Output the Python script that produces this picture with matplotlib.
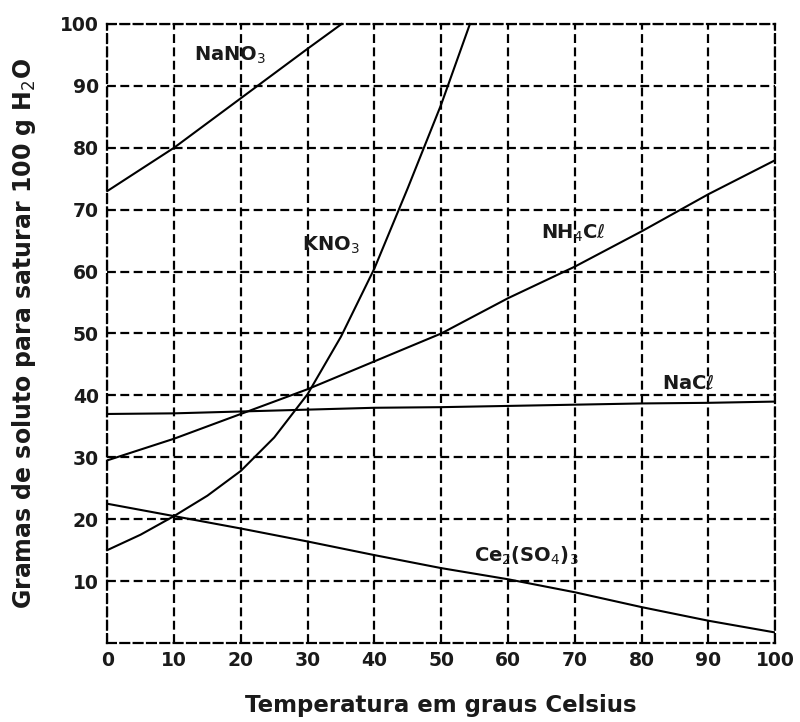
import matplotlib
matplotlib.use("Agg")
import matplotlib.pyplot as plt

# Data
temp = [0, 10, 20, 30, 40, 50, 60, 70, 80, 90, 100]

nano3_t = [0, 10, 20, 30, 35.1]
nano3_v = [73, 80, 88, 96, 100]

kno3_t = [0, 5, 10, 15, 20, 25, 30, 35, 40, 45, 50, 54.3]
kno3_v = [15, 17.5, 20.5, 23.8, 27.8, 33.2, 40.2, 49.5, 60.5, 73.5, 87, 100]

nh4cl_v = [29.5, 33, 37, 41, 45.5, 50, 55.7, 60.8, 66.5, 72.5, 78]
nacl_v = [37, 37.1, 37.4, 37.7, 38, 38.1, 38.3, 38.5, 38.7, 38.8, 39]
ce2so4_v = [22.5, 20.5, 18.5, 16.4, 14.2, 12.1, 10.3, 8.2, 5.8, 3.6, 1.7]

xticks = [0, 10, 20, 30, 40, 50, 60, 70, 80, 90, 100]
yticks = [10, 20, 30, 40, 50, 60, 70, 80, 90, 100]

labels = [
    ("NaNO$_3$", 18.4, 95.0),
    ("KNO$_3$", 33.5, 64.3),
    ("NH$_4$C$\\ell$", 69.8, 66.2),
    ("NaC$\\ell$", 87.0, 42.0),
    ("Ce$_2$(SO$_4$)$_3$", 62.8, 14.0),
]

plt.rcParams['font.family'] = ['DejaVu Sans']
plt.rcParams['mathtext.fontset'] = 'dejavusans'

fig = plt.figure(figsize=(8, 7.22), dpi=100)
ax = fig.add_axes([0.134, 0.1094, 0.835, 0.8574])

dash = (0, (4, 2))
ax.set_xlim(0, 100)
ax.set_ylim(0, 100)
ax.set_xticks(xticks)
ax.set_yticks(yticks)
ax.grid(True, color='black', linestyle=dash, linewidth=1.6)
for s in ax.spines.values():
    s.set_linestyle(dash)
    s.set_linewidth(1.6)
ax.tick_params(length=0, pad=6, labelsize=13.5, colors='#1a1a1a')
for lab in ax.get_xticklabels() + ax.get_yticklabels():
    lab.set_fontweight('bold')

lw = 1.5
ax.plot(nano3_t, nano3_v, color='black', lw=lw, clip_on=False)
ax.plot(kno3_t, kno3_v, color='black', lw=lw, clip_on=False)
ax.plot(temp, nh4cl_v, color='black', lw=lw)
ax.plot(temp, nacl_v, color='black', lw=lw)
ax.plot(temp, ce2so4_v, color='black', lw=lw)

for txt, x, y in labels:
    ax.text(x, y, txt, ha='center', va='center', fontsize=14, fontweight='bold',
            color='#1a1a1a')

ax.set_xlabel("Temperatura em graus Celsius", fontsize=16.5, fontweight='bold',
              color='#1a1a1a', labelpad=17)
ax.set_ylabel("Gramas de soluto para saturar 100 g H$_2$O", fontsize=17,
              fontweight='bold', color='#1a1a1a', va='center')
ax.yaxis.set_label_coords(-0.125, 0.5)

fig.savefig("out.png", dpi=100)
